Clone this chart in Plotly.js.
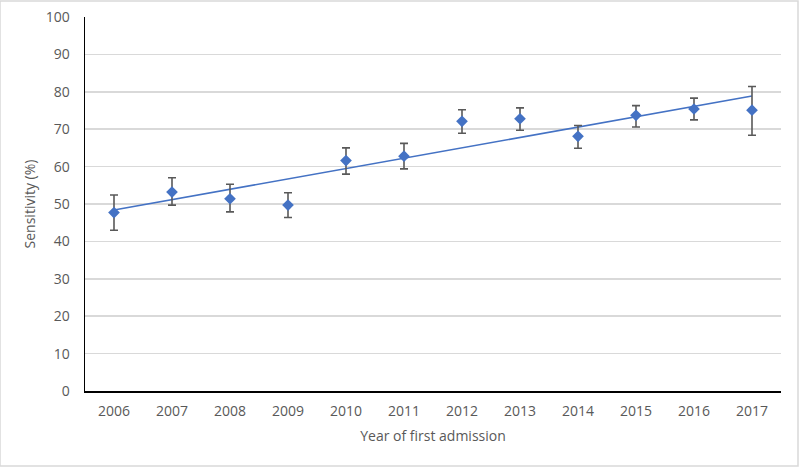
<!DOCTYPE html>
<html>
<head>
<meta charset="utf-8">
<script src="https://cdn.plot.ly/plotly-3.0.1.min.js"></script>
<style>html,body{margin:0;padding:0;background:#fff;}#chart{width:800px;height:468px;}</style>
</head>
<body>
<div id="chart"></div>
<script>
// Data
const years = ['2006','2007','2008','2009','2010','2011','2012','2013','2014','2015','2016','2017'];
const sensitivity = [47.7, 53.2, 51.4, 49.7, 61.6, 62.8, 72.1, 72.8, 68.1, 73.7, 75.4, 75.1];
const upperCI = [52.4, 57.0, 55.3, 53.0, 65.0, 66.2, 75.2, 75.7, 71.0, 76.3, 78.3, 81.4];
const lowerCI = [43.0, 49.7, 47.9, 46.4, 58.0, 59.4, 68.9, 69.7, 64.9, 70.6, 72.5, 68.4];
const yTicks = [0, 10, 20, 30, 40, 50, 60, 70, 80, 90, 100];

// Linear trendline (least squares on the data, like a spreadsheet trendline)
const n = sensitivity.length;
const idx = sensitivity.map((_, i) => i);
const mx = idx.reduce((a, b) => a + b, 0) / n;
const my = sensitivity.reduce((a, b) => a + b, 0) / n;
let sxy = 0, sxx = 0;
idx.forEach(i => { sxy += (i - mx) * (sensitivity[i] - my); sxx += (i - mx) * (i - mx); });
const slope = sxy / sxx;
const intercept = my - slope * mx;
const trend = idx.map(i => intercept + slope * i);

const errPlus = sensitivity.map((v, i) => upperCI[i] - v);
const errMinus = sensitivity.map((v, i) => v - lowerCI[i]);

const fontFam = 'Open Sans, Segoe UI, sans-serif';
const grey = '#595959';

const data = [
  {
    x: years, y: trend, type: 'scatter', mode: 'lines',
    line: {color: '#4472C4', width: 1.6},
    hoverinfo: 'skip', showlegend: false
  },
  {
    x: years, y: sensitivity, type: 'scatter', mode: 'markers',
    marker: {symbol: 'diamond', size: 9, color: '#4472C4'},
    error_y: {type: 'data', symmetric: false, array: errPlus, arrayminus: errMinus,
              color: grey, thickness: 1.6, width: 4},
    showlegend: false
  }
];

const layout = {
  width: 800, height: 468,
  margin: {l: 85, r: 19, t: 17, b: 77},
  paper_bgcolor: '#ffffff', plot_bgcolor: '#ffffff',
  font: {family: fontFam, size: 14, color: grey},
  xaxis: {
    type: 'category', range: [-0.5, 11.5],
    showline: true, linecolor: '#000000', linewidth: 1.5,
    showgrid: false, zeroline: false,
    ticks: 'outside', ticklen: 7, tickcolor: 'rgba(0,0,0,0)',
    tickfont: {family: fontFam, size: 14, color: grey},
    title: {text: 'Year of first admission', font: {family: fontFam, size: 14, color: grey}, standoff: 12}
  },
  yaxis: {
    range: [0, 100], tickvals: yTicks, ticktext: yTicks.map(String),
    showline: true, linecolor: '#000000', linewidth: 1.5,
    showgrid: true, gridcolor: '#d9d9d9', gridwidth: 1.5, zeroline: false,
    ticks: 'outside', ticklen: 11, tickcolor: 'rgba(0,0,0,0)',
    tickfont: {family: fontFam, size: 14, color: grey},
    title: {text: 'Sensitivity (%)', font: {family: fontFam, size: 14, color: grey}, standoff: 7}
  },
  shapes: [{
    type: 'rect', xref: 'paper', yref: 'paper',
    x0: -85/696, x1: 1 + 17/696, y0: -75/374, y1: 1 + 16/374,
    line: {color: '#d9d9d9', width: 1.5}, fillcolor: 'rgba(0,0,0,0)', layer: 'below'
  }]
};

Plotly.newPlot('chart', data, layout, {displayModeBar: false, staticPlot: true});
</script>
</body>
</html>
